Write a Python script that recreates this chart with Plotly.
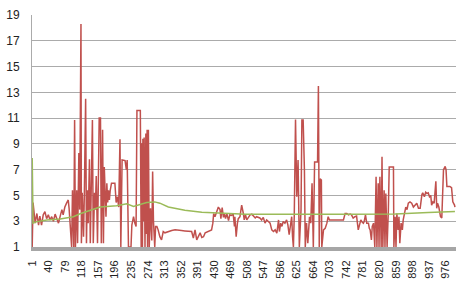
import plotly.graph_objects as go

# Red series (category index, value)
red_x = [1,3,8,12,16,19,23,27,31,35,39,43,47,51,55,59,63,67,71,74,78,82,86,88,91,94,96,99,101,103,106,108,111,113,116,117,119,122,124,127,129,131,133,136,138,140,143,145,148,150,152,155,157,159,162,164,167,169,171,173,175,177,179,181,183,185,188,196,199,202,205,208,210,213,220,223,225,228,234,236,240,243,246,248,256,258,259,261,262,264,265,267,269,270,272,273,275,277,280,283,285,287,290,292,295,298,302,306,310,314,322,330,338,346,353,361,369,377,381,385,389,393,397,401,405,409,416,424,427,429,432,436,440,444,446,449,452,454,457,460,464,467,471,475,478,479,482,485,487,491,495,499,501,504,507,511,515,519,523,527,530,534,538,542,546,550,554,558,562,566,570,574,578,582,584,587,590,593,597,601,604,607,611,613,615,617,619,622,625,628,631,635,637,640,643,645,648,651,655,658,661,664,667,674,676,678,680,683,684,688,692,696,699,702,705,711,719,727,735,739,743,747,751,754,758,762,766,770,773,776,778,782,784,787,790,794,796,798,801,803,806,808,809,812,814,817,819,821,824,826,828,831,833,835,838,841,843,853,854,857,859,861,864,866,868,871,874,876,879,882,885,888,892,896,900,904,908,912,916,920,922,926,929,932,935,938,941,943,946,949,953,955,957,960,964,967,968,971,975,977,979,986,990,993,997,998]
red_y = [1.0,4.45,2.85,3.6,2.7,3.4,2.7,3.5,3.75,3.2,3.5,3.1,3.35,3.0,3.55,3.2,2.85,3.4,3.9,3.5,4.1,4.4,4.65,4.0,2.7,1.0,5.4,1.0,10.85,1.0,5.4,1.3,8.3,3.9,18.3,1.3,5.2,1.8,5.2,12.5,1.3,5.4,2.85,7.8,1.3,4.4,10.85,1.3,5.2,3.9,6.5,1.3,7.0,11.0,11.0,1.3,10.1,1.3,7.2,4.9,3.35,5.95,4.45,5.4,4.65,5.4,5.95,5.95,4.45,4.9,4.1,9.35,1.0,7.75,7.7,7.0,7.75,1.0,1.0,2.7,3.35,2.85,2.6,11.6,11.6,1.0,9.05,1.0,9.4,3.0,9.5,1.0,9.8,2.0,10.1,1.0,10.1,1.0,4.0,1.5,6.85,3.0,1.0,2.6,2.6,2.33,1.8,1.55,2.2,2.1,2.2,2.28,2.33,2.33,2.28,2.25,2.2,2.2,1.7,2.33,1.55,1.8,2.1,1.74,1.8,2.1,2.2,2.33,2.85,3.6,3.35,3.75,4.1,3.9,3.2,4.05,3.3,3.6,3.2,3.6,3.05,3.5,3.45,3.55,2.6,3.35,1.8,2.85,3.2,3.35,4.25,3.6,3.1,3.5,3.1,3.3,3.5,3.55,3.35,3.25,3.35,3.3,3.25,3.1,3.3,2.85,3.1,2.98,2.85,2.33,2.2,2.33,2.07,3.1,2.2,2.85,2.6,2.98,2.85,3.1,2.72,1.95,2.85,3.35,1.8,1.0,3.35,10.9,4.9,7.75,1.0,3.9,10.85,10.85,7.0,1.0,2.85,1.3,3.35,2.85,5.95,1.0,7.6,7.6,13.5,1.0,6.3,6.2,1.0,2.33,2.45,2.85,3.35,3.1,3.1,3.1,3.1,3.15,3.1,3.6,3.6,3.5,3.55,3.5,3.25,3.35,3.4,2.33,2.85,3.1,2.98,2.85,2.98,3.5,2.85,2.85,2.45,2.33,1.55,2.6,2.85,1.3,1.0,6.45,1.0,5.95,1.0,6.45,1.0,8.0,1.0,5.4,1.0,5.15,1.0,3.9,7.2,7.2,1.0,3.35,1.0,3.6,2.33,3.35,1.3,2.85,2.33,3.1,3.75,4.1,3.9,4.4,4.5,4.4,4.1,4.25,4.4,4.0,4.0,5.05,5.2,4.9,5.25,5.15,5.2,4.9,5.0,4.25,4.5,4.4,6.1,4.0,4.4,4.1,3.35,3.25,4.9,7.0,7.25,7.0,5.7,5.7,5.6,4.5,4.25,4.1]

# Green (moving average) series
green_x = [1,3,10,35,67,98,114,130,161,200,224,240,271,290,302,322,361,401,440,479,503,609,680,750,817,857,935,998]
green_y = [7.9,2.85,2.95,3.1,3.17,3.35,3.58,3.75,4.1,4.2,4.35,4.15,4.45,4.5,4.4,4.1,3.85,3.7,3.62,3.58,3.55,3.52,3.55,3.55,3.55,3.57,3.67,3.75]

x_ticks = list(range(1, 1000, 39))
y_ticks = list(range(1, 20, 2))

fig = go.Figure()
fig.add_trace(go.Scatter(x=red_x, y=red_y, mode="lines",
                         line=dict(color="#C0504D", width=1.5), showlegend=False))
fig.add_trace(go.Scatter(x=green_x, y=green_y, mode="lines",
                         line=dict(color="#9BBB59", width=1.5), showlegend=False))

fig.update_layout(
    width=471, height=284,
    margin=dict(l=32, r=15, t=15, b=37),
    paper_bgcolor="white", plot_bgcolor="white",
    font=dict(family="Liberation Sans, Arial, sans-serif", color="#222222"),
)
fig.update_xaxes(
    range=[0.5, 1000.5], tickmode="array", tickvals=x_ticks,
    ticktext=[str(v) for v in x_ticks], tickangle=-90,
    tickfont=dict(size=11), showgrid=False, zeroline=False,
    showline=True, linecolor="#A6A6A6", linewidth=4,
    ticks="", ticklabelstandoff=5, automargin=False,
)
fig.update_yaxes(
    range=[1, 19], tickmode="array", tickvals=y_ticks,
    tickfont=dict(size=12), showgrid=True, gridcolor="#ABABAB", gridwidth=1,
    zeroline=False, showline=True, linecolor="#ABABAB", linewidth=1,
    ticks="", ticklabelstandoff=9, automargin=False,
)

fig.write_html(
    "out.html",
    config={"displayModeBar": False, "staticPlot": True},
    post_script="document.body.style.margin='0';document.body.style.overflow='hidden';",
)
